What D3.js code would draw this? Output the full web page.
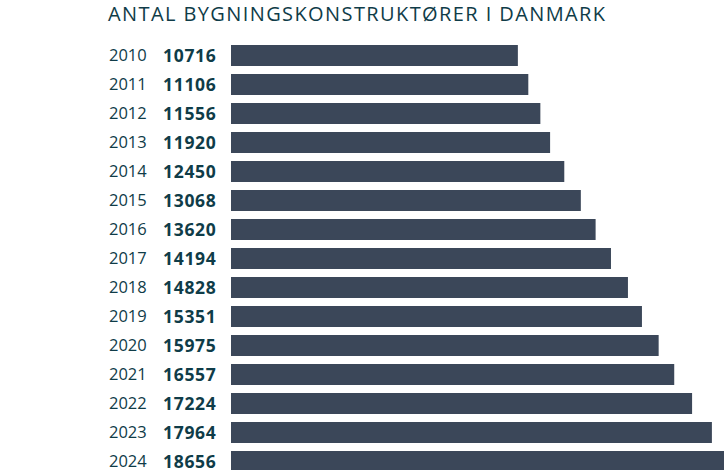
<!DOCTYPE html>
<html>
<head>
<meta charset="utf-8">
<script src="https://cdn.jsdelivr.net/npm/d3@7"></script>
<style>
  body { margin: 0; background: #fff; }
  svg { display: block; font-family: "Open Sans", sans-serif; }
</style>
</head>
<body>
<svg id="plot"></svg>
<script>
// Data
var years = ["2010", "2011", "2012", "2013", "2014", "2015", "2016", "2017", "2018", "2019", "2020", "2021", "2022", "2023", "2024"];
var counts = [10716, 11106, 11556, 11920, 12450, 13068, 13620, 14194, 14828, 15351, 15975, 16557, 17224, 17964, 18656];
var title = "ANTAL BYGNINGSKONSTRUKTØRER I DANMARK";

var data = years.map((y, i) => ({year: y, value: counts[i]}));

var width = 724, height = 470;
var textColor = "#0f3c48", barColor = "#3b4759";

var svg = d3.select('#plot')
  .attr('width', width)
  .attr('height', height);

// Scales
const xScale = d3.scaleLinear()
  .domain([0, 20000])
  .range([231, 231 + 20000 * 0.02677]);

const yScale = d3.scaleBand()
  .domain(years)
  .range([41, 476])
  .paddingInner(0.276)
  .paddingOuter(0.138);

// Title
svg.append('text')
  .attr('x', 108)
  .attr('y', 21)
  .style('font-size', '20px')
  .style('letter-spacing', '1.4px')
  .style('fill', textColor)
  .text(title);

// Bars
svg.selectAll('.bar')
  .data(data)
  .enter().append('rect')
    .attr('class', 'bar')
    .attr('x', xScale(0))
    .attr('y', d => yScale(d.year))
    .attr('width', d => xScale(d.value) - xScale(0))
    .attr('height', yScale.bandwidth())
    .attr('fill', barColor);

// Year labels
svg.selectAll('.yearLabel')
  .data(data)
  .enter().append('text')
    .attr('class', 'yearLabel')
    .attr('x', 109)
    .attr('y', d => yScale(d.year) + yScale.bandwidth() / 2)
    .attr('dy', '0.36em')
    .style('font-size', '16.5px')
    .style('fill', textColor)
    .text(d => d.year);

// Value labels
svg.selectAll('.valueLabel')
  .data(data)
  .enter().append('text')
    .attr('class', 'valueLabel')
    .attr('x', 163)
    .attr('y', d => yScale(d.year) + yScale.bandwidth() / 2)
    .attr('dy', '0.36em')
    .style('font-size', '17.5px')
    .style('letter-spacing', '0.7px')
    .style('font-weight', 'bold')
    .style('fill', textColor)
    .text(d => d.value);
</script>
</body>
</html>
